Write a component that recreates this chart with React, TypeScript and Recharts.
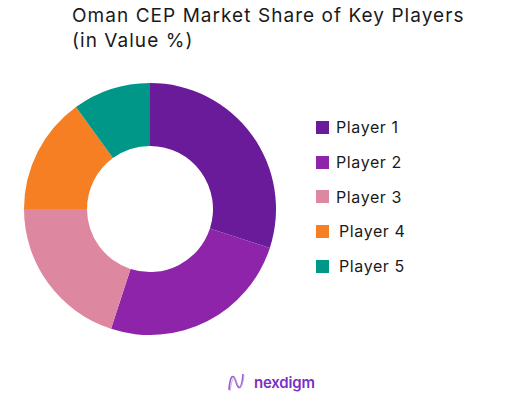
import React from "react";
import { PieChart, Pie, Cell, Legend } from "recharts";

const categories = ["Player 1", "Player 2", "Player 3", "Player 4", "Player 5"];
const shares = [30, 25, 20, 15, 10];
const colors = ["#6A1B9A", "#8E24AA", "#DE87A0", "#F57F22", "#009688"];

const data = categories.map((name, i) => ({ name, value: shares[i] }));

const FONT = "Inter, 'Open Sans', sans-serif";

const renderLegend = (props: any) => {
  const { payload } = props;
  return (
    <div style={{ fontFamily: FONT }}>
      {payload.map((entry: any, i: number) => (
        <div
          key={entry.value}
          style={{
            display: "flex",
            alignItems: "center",
            height: 34.7,
          }}
        >
          <span
            style={{
              width: 13,
              height: 13,
              background: entry.color,
              display: "inline-block",
              marginRight: i >= 3 ? 10 : 7,
            }}
          />
          <span style={{ fontSize: 16, color: "#1a1a1a", letterSpacing: 0.6 }}>
            {entry.value}
          </span>
        </div>
      ))}
    </div>
  );
};

export default function App() {
  return (
    <div
      style={{
        position: "absolute",
        left: 0,
        top: 0,
        width: 526,
        height: 400,
        background: "#fff",
        fontFamily: FONT,
      }}
    >
      <div
        style={{
          position: "absolute",
          left: 72,
          top: 3,
          fontSize: 19,
          lineHeight: "25px",
          color: "#1a1a1a",
          letterSpacing: 1.05,
        }}
      >
        Oman CEP Market Share of Key Players
        <br />
        (in Value %)
      </div>
      <PieChart
        width={526}
        height={400}
        margin={{ top: 0, right: 0, bottom: 0, left: 0 }}
      >
        <Pie
          data={data}
          dataKey="value"
          nameKey="name"
          cx={150}
          cy={209}
          innerRadius={63}
          outerRadius={126}
          startAngle={90}
          endAngle={-270}
          stroke="none"
          isAnimationActive={false}
        >
          {data.map((d, i) => (
            <Cell key={d.name} fill={colors[i]} />
          ))}
        </Pie>
        <Legend
          layout="vertical"
          content={renderLegend}
          wrapperStyle={{ left: 316, top: 110, width: 150 }}
        />
      </PieChart>
      <div
        style={{
          position: "absolute",
          left: 226,
          top: 370,
          display: "flex",
          alignItems: "center",
        }}
      >
        <svg width={24} height={24} viewBox="0 0 24 24">
          <path
            d="M3 20 C4 6, 7 2, 10 12 C13 22, 16 18, 17 4"
            fill="none"
            stroke="#9B59D0"
            strokeWidth={1.6}
          />
          <path
            d="M4 21 C6 8, 8 4, 11 13 C14 21, 17 16, 18 5"
            fill="none"
            stroke="#C9A3E6"
            strokeWidth={1}
          />
        </svg>
        <span
          style={{
            marginLeft: 4,
            fontSize: 15,
            fontWeight: 600,
            color: "#7B2FC4",
            letterSpacing: -0.2,
          }}
        >
          nexdigm
        </span>
      </div>
    </div>
  );
}
